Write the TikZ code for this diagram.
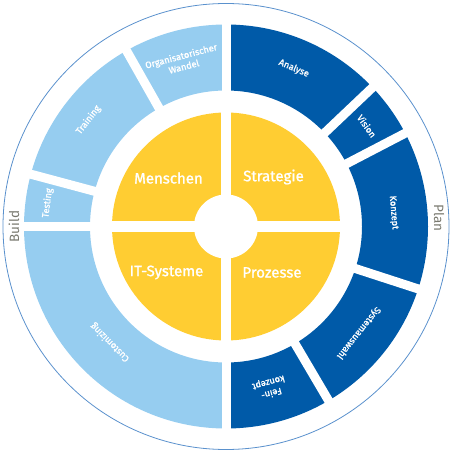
\documentclass[tikz,border=0pt]{standalone}
\usepackage{fontspec}
\setmainfont{Fira Sans}
\newfontfamily\medfont{Fira Sans}[FakeBold=1.2]
\definecolor{dblue}{RGB}{0,90,168}
\definecolor{lblue}{RGB}{150,205,240}
\definecolor{yel}{RGB}{255,205,50}
\definecolor{ringcol}{RGB}{90,145,205}
\definecolor{grtext}{RGB}{120,120,110}
\tikzset{
  lab/.style={text=white, font=\medfont\fontsize{9.2}{11}\selectfont, align=center, inner sep=0pt},
  core/.style={text=white, font=\medfont\fontsize{15}{18}\selectfont, inner sep=0pt},
  side/.style={text=grtext, font=\fontsize{13.5}{15}\selectfont, inner sep=0pt},
  gap/.style={white, line width=9pt},
  coregap/.style={white, line width=10.5pt}
}
\newcommand\ringhalf[3]{\fill[#1] (#2:136) arc[start angle=#2,end angle=#3,radius=136] -- (#3:202) arc[start angle=#3,end angle=#2,radius=202] -- cycle;}
\begin{document}
\begin{tikzpicture}[x=1pt,y=1pt]
\useasboundingbox (-226,-227.5) rectangle (228,226.5);
\draw[ringcol, line width=0.8pt] (0,0) circle[radius=223];
% ring halves
\ringhalf{dblue}{-90}{90}
\ringhalf{lblue}{90}{270}
% gaps between segments
\foreach \a in {90,43.5,27.5,-18,-59.5,-90,119.5,165,180}
  \draw[gap] (\a:128) -- (\a:210);
% core
\fill[yel] (0,0) circle[radius=114];
\fill[white] (0,0) circle[radius=32];
\draw[coregap] (-120,0) -- (120,0);
\draw[coregap] (0,-120) -- (0,120);
% ring labels
\node[lab, rotate=-23.25] (analyse) at (66.75:172) {Analyse};
\node[lab, rotate=-54.5] (vision) at (35.5:173) {Vision};
\node[lab, rotate=-85.25] (konzept) at (4.75:168) {Konzept};
\node[lab, rotate=-128.75] (sysaus) at (-38.75:170) {Systemauswahl};
\node[lab, rotate=-164.75] (fein) at (-74.75:167) {Fein-\\konzept};
\node[lab, rotate=135] (custom) at (225:164) {Customizing};
\node[lab, rotate=82.5] (testing) at (172.5:180) {Testing};
\node[lab, rotate=52.25] (training) at (142.25:174) {Training};
\node[lab, rotate=14.75] (orga) at (104.75:171) {Organisatorischer\\Wandel};
% core labels
\node[core] (menschen) at (-57.5,48.5) {Menschen};
\node[core] (strategie) at (47.5,49.5) {Strategie};
\node[core] (itsys) at (-59.5,-46) {IT-Systeme};
\node[core] (prozesse) at (46,-46) {Prozesse};
% side labels
\node[side, rotate=90] (build) at (-212,0) {Build};
\node[side, rotate=-90] (plan) at (213,8.5) {Plan};
\end{tikzpicture}
\end{document}
